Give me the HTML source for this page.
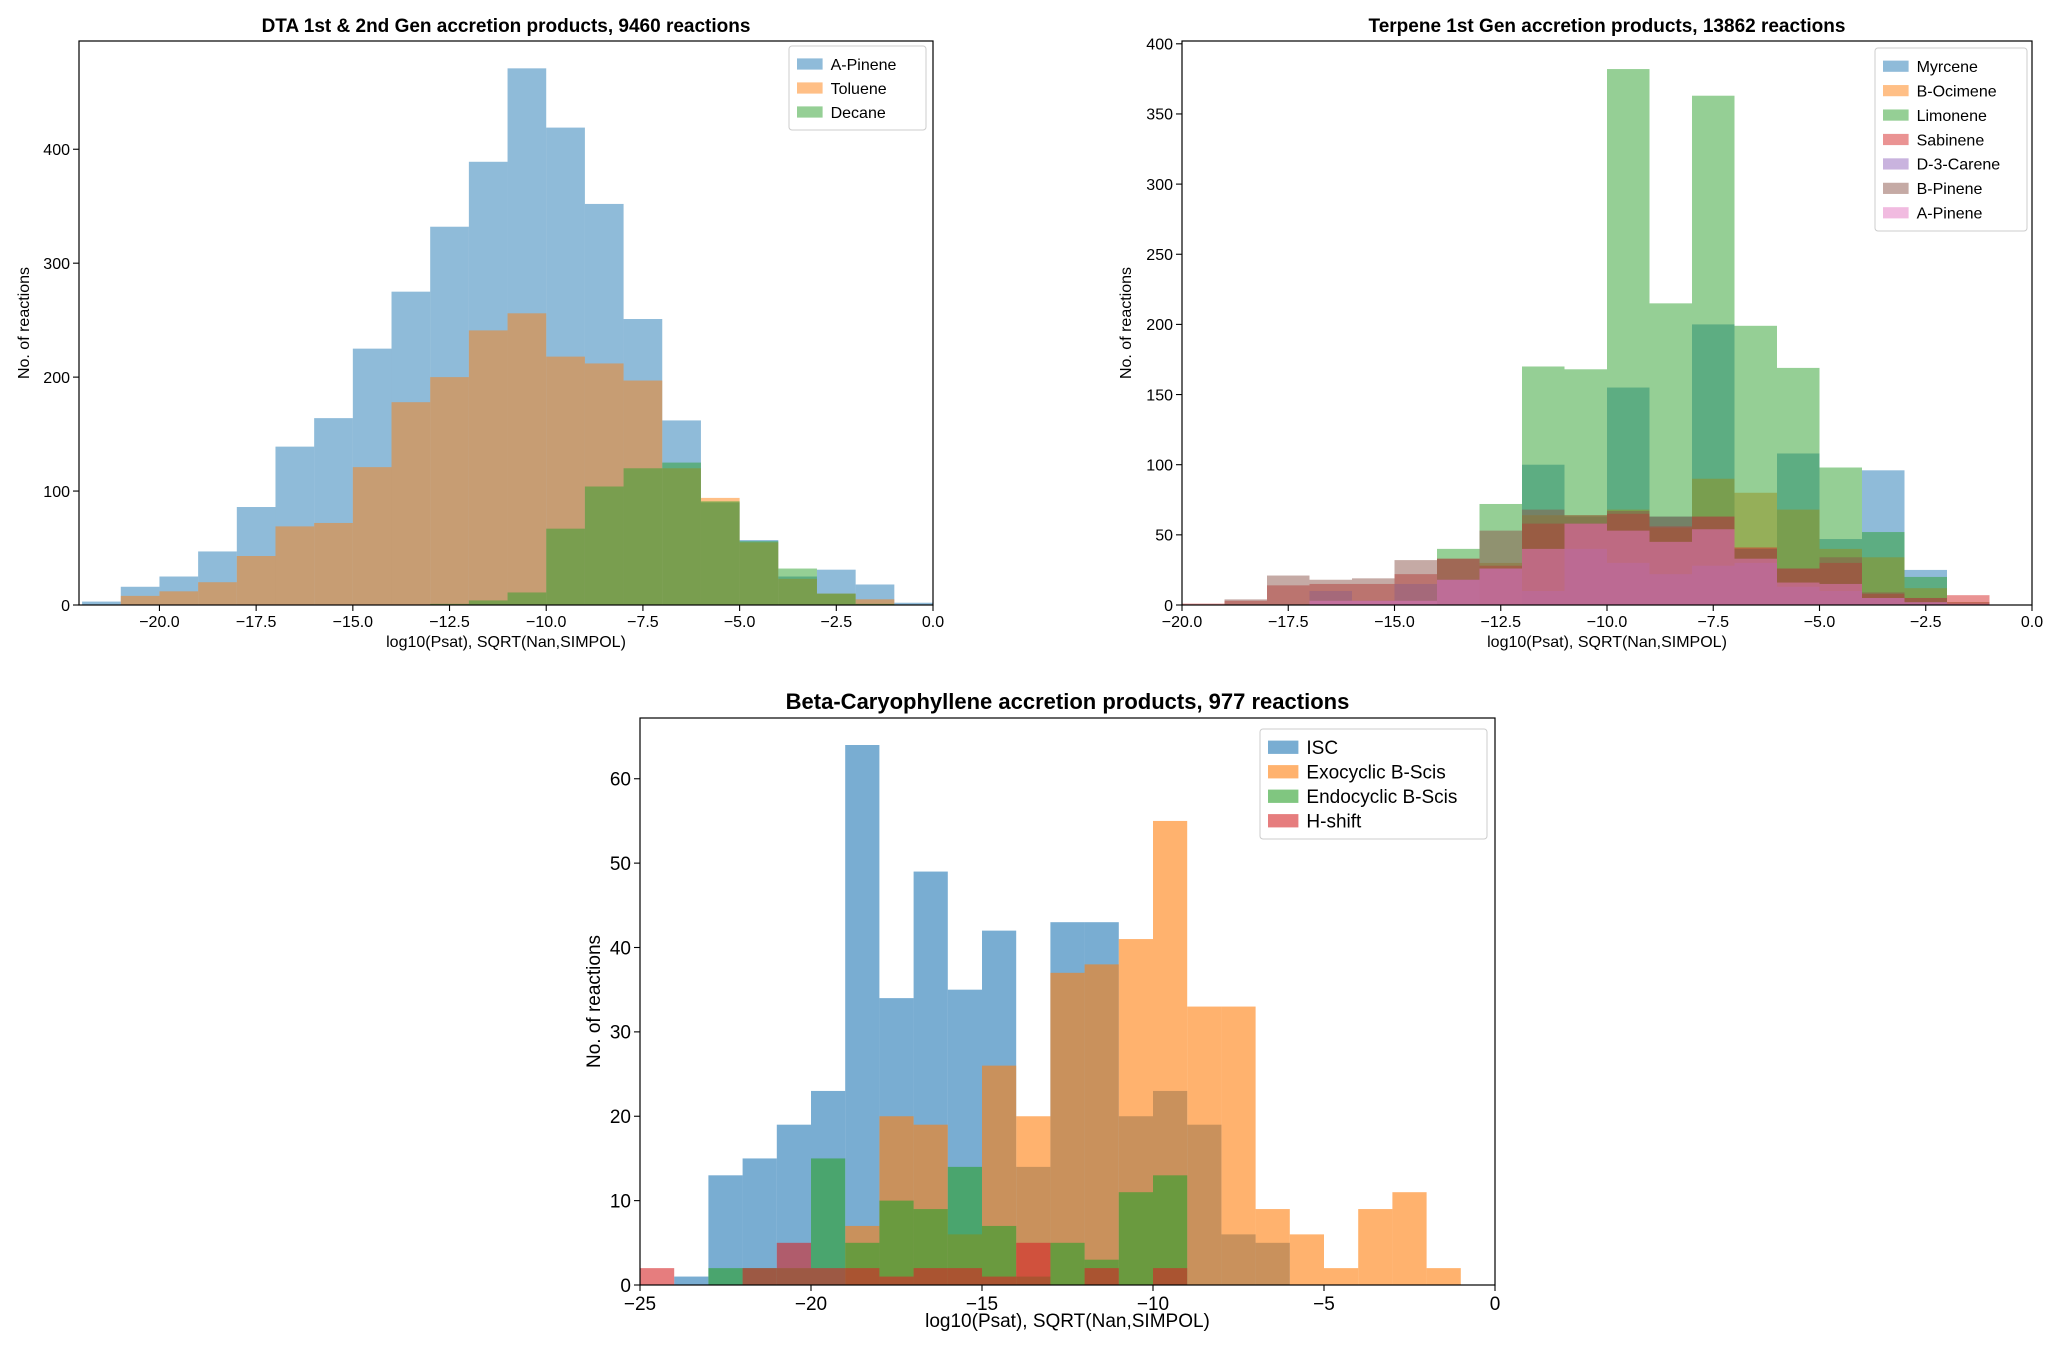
<!DOCTYPE html>
<html><head><meta charset="utf-8"><style>
html,body{margin:0;padding:0;background:#fff;}
svg{display:block;font-family:"Liberation Sans","DejaVu Sans",sans-serif;}
</style></head><body>
<svg id="fig" width="2067" height="1356" viewBox="0 0 2067 1356"></svg>
<script>
// ---- Chart 1 data (bins of width 1 starting at binStart1) ----
const binStart1 = -22;
const series1Names = ["A-Pinene","Toluene","Decane"];
const aPinene1 = [3,16,25,47,86,139,164,225,275,332,389,471,419,352,251,162,90,57,25,31,18,2];
const toluene1 = [0,8,12,20,43,69,72,121,178,200,241,256,218,212,197,120,94,55,23,10,5,0];
const decane1  = [0,0,0,0,0,0,0,0,0,1,4,11,67,104,120,125,91,56,32,10,1,0];
const xTicks1 = [-20,-17.5,-15,-12.5,-10,-7.5,-5,-2.5,0];
const yTicks1 = [0,100,200,300,400];

// ---- Chart 2 data ----
const binStart2 = -20;
const series2Names = ["Myrcene","B-Ocimene","Limonene","Sabinene","D-3-Carene","B-Pinene","A-Pinene"];
const myrcene2  = [0,0,0,0,0,0,0,0,100,63,155,63,200,40,108,47,96,25,0,0];
const ocimene2  = [0,0,0,0,0,0,0,30,64,64,68,55,90,80,68,40,34,12,2,0];
const limonene2 = [0,0,0,0,0,0,40,72,170,168,382,215,363,199,169,98,52,20,0,0];
const sabinene2 = [1,3,14,15,15,22,33,28,58,58,65,56,63,41,26,30,8,5,7,0];
const carene2   = [0,0,0,10,3,15,18,26,10,40,30,22,28,30,13,10,5,2,0,0];
const bPinene2  = [0,4,21,18,19,32,33,53,68,64,67,63,63,40,26,34,9,5,2,0];
const aPinene2  = [0,0,0,3,3,3,18,26,40,58,53,45,54,33,16,15,5,2,1,0];
const xTicks2 = [-20,-17.5,-15,-12.5,-10,-7.5,-5,-2.5,0];
const yTicks2 = [0,50,100,150,200,250,300,350,400];

// ---- Chart 3 data ----
const binStart3 = -25;
const series3Names = ["ISC","Exocyclic B-Scis","Endocyclic B-Scis","H-shift"];
const isc3   = [0,1,13,15,19,23,64,34,49,35,42,14,43,43,20,23,19,6,5,0,0,0,0,0,0];
const exo3   = [0,0,0,0,0,0,7,20,19,6,26,20,37,38,41,55,33,33,9,6,2,9,11,2,0];
const endo3  = [0,0,2,2,2,15,5,10,9,14,7,1,5,3,11,13,0,0,0,0,0,0,0,0,0];
const hshift3= [2,0,0,2,5,2,2,1,2,2,1,5,0,2,0,2,0,0,0,0,0,0,0,0,0];
const xTicks3 = [-25,-20,-15,-10,-5,0];
const yTicks3 = [0,10,20,30,40,50,60];

const colors = ["#1f77b4","#ff7f0e","#2ca02c","#d62728","#9467bd","#8c564b","#e377c2"];
const NS = "http://www.w3.org/2000/svg";
const svg = document.getElementById("fig");
function mk(tag, attrs, parent){ const e=document.createElementNS(NS,tag); for(const k in attrs) e.setAttribute(k,attrs[k]); (parent||svg).appendChild(e); return e; }
function fmt(v, dec){ const s = dec ? Math.abs(v).toFixed(1) : String(Math.abs(v)); return (v<0?"\u2212":"")+s; }

function drawChart(cfg){
  const g = mk("g",{});
  
  
  const L=cfg.box[0], T=cfg.box[1], R=cfg.box[2], B=cfg.box[3];
  const xs = v => L + (v-cfg.xmin)/(cfg.xmax-cfg.xmin)*(R-L);
  const ys = v => B - v/cfg.ymax*(B-T);
  cfg.series.forEach((arr, si)=>{
    arr.forEach((v, i)=>{
      if(v<=0) return;
      const x0 = xs(cfg.binStart+i), x1 = xs(cfg.binStart+i+1);
      const r = mk("rect",{x:x0,y:ys(v),width:x1-x0,height:B-ys(v),fill:colors[si],"fill-opacity":cfg.alpha},g);
      
      
    });
  });
  const frame = mk("rect",{x:L,y:T,width:R-L,height:B-T,fill:"none",stroke:"#000","stroke-width":1.2},g);
  
  
  cfg.xTicks.forEach(t=>{
    const x = xs(t);
    mk("line",{x1:x,y1:B,x2:x,y2:B+6,stroke:"#000","stroke-width":1.1},g);
    const tx = mk("text",{x:x,y:B+6+cfg.fs,"text-anchor":"middle","font-size":cfg.fs},g);
    tx.textContent = fmt(t, cfg.xdec);
    
    
  });
  cfg.yTicks.forEach(t=>{
    const y = ys(t);
    mk("line",{x1:L-6,y1:y,x2:L,y2:y,stroke:"#000","stroke-width":1.1},g);
    const tx = mk("text",{x:L-9,y:y+cfg.fs*0.36,"text-anchor":"end","font-size":cfg.fs},g);
    tx.textContent = String(t);
    
    
  });
  const title = mk("text",{x:(L+R)/2,y:T-9,"text-anchor":"middle","font-size":cfg.tfs,"font-weight":"bold"},g);
  title.textContent = cfg.title;
  
  
  const xl = mk("text",{x:(L+R)/2,y:cfg.xlabelY,"text-anchor":"middle","font-size":cfg.fs},g);
  xl.textContent = "log10(Psat), SQRT(Nan,SIMPOL)";
  
  
  const yl = mk("text",{x:0,y:0,"text-anchor":"middle","font-size":cfg.fs,transform:"translate("+cfg.ylabelX+","+((T+B)/2)+") rotate(-90)"},g);
  yl.textContent = "No. of reactions";
  
  
  const lg = cfg.legend;
  const lb = mk("g",{},g);
  
  
  mk("rect",{x:lg[0],y:lg[1],width:lg[2],height:lg[3],fill:"#fff",stroke:"#ccc","stroke-width":1,rx:3},lb);
  const step = (lg[3]-12)/cfg.names.length;
  cfg.names.forEach((n,i)=>{
    const cy = lg[1]+6+step*(i+0.5);
    mk("rect",{x:lg[0]+8,y:cy-cfg.lfs*0.35,width:cfg.lfs*1.6,height:cfg.lfs*0.7,fill:colors[i],"fill-opacity":cfg.alpha},lb);
    const t = mk("text",{x:lg[0]+16+cfg.lfs*1.6,y:cy+cfg.lfs*0.36,"font-size":cfg.lfs},lb);
    t.textContent = n;
    
    
  });
}

drawChart({name:"dta-histogram",box:[79,41,933,605],xmin:-22.08,xmax:0,ymax:495,binStart:binStart1,
  series:[aPinene1,toluene1,decane1],names:series1Names,alpha:0.5,xTicks:xTicks1,yTicks:yTicks1,xdec:true,
  fs:16,tfs:19,lfs:16,title:"DTA 1st & 2nd Gen accretion products, 9460 reactions",xlabelY:647,ylabelX:29,
  legend:[789,46,137,84]});
drawChart({name:"terpene-histogram",box:[1182,41,2032,605],xmin:-20,xmax:0,ymax:402,binStart:binStart2,
  series:[myrcene2,ocimene2,limonene2,sabinene2,carene2,bPinene2,aPinene2],names:series2Names,alpha:0.5,xTicks:xTicks2,yTicks:yTicks2,xdec:true,
  fs:16,tfs:19,lfs:16,title:"Terpene 1st Gen accretion products, 13862 reactions",xlabelY:647,ylabelX:1131,
  legend:[1875,48,152,183]});
drawChart({name:"caryophyllene-histogram",box:[640,718,1495,1285],xmin:-25,xmax:0,ymax:67.2,binStart:binStart3,
  series:[isc3,exo3,endo3,hshift3],names:series3Names,alpha:0.6,xTicks:xTicks3,yTicks:yTicks3,xdec:false,
  fs:19,tfs:22,lfs:19,title:"Beta-Caryophyllene accretion products, 977 reactions",xlabelY:1327,ylabelX:600,
  legend:[1260,729,227,110]});
</script>
</body></html>
